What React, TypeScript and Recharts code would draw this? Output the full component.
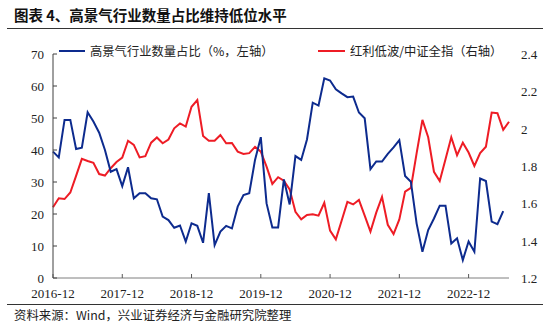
import { LineChart, Line, XAxis, YAxis } from 'recharts';

// 高景气行业数量占比 (%), monthly from 2016-12
const highShare = [
  39.5, 37.7, 49.4, 49.4, 40.3, 40.7, 51.8, 48.9, 45.4, 40.0,
  33.2, 34.0, 28.7, 34.6, 24.9, 26.5, 26.5, 24.9, 24.6, 19.2,
  18.1, 15.7, 16.4, 11.4, 17.1, 16.3, 11.0, 26.5, 10.3, 14.5,
  16.3, 15.5, 22.3, 25.9, 26.5, 36.9, 44.0, 23.3, 15.8, 15.8,
  30.8, 23.0, 38.1, 36.9, 43.3, 54.8, 53.9, 62.4, 61.7, 59.0,
  57.7, 56.5, 56.7, 51.7, 49.9, 34.0, 36.4, 36.4, 38.8, 40.8,
  43.1, 31.9, 30.1, 17.0, 8.2, 15.0, 18.6, 22.6, 22.6, 10.8,
  12.4, 5.6, 11.4, 8.2, 31.1, 30.3, 17.6, 16.8, 20.9,
];

// 红利低波/中证全指
const ratio = [
  1.579, 1.627, 1.623, 1.658, 1.747, 1.838, 1.827, 1.817, 1.757, 1.749,
  1.788, 1.821, 1.845, 1.935, 1.913, 1.846, 1.853, 1.925, 1.953, 1.922,
  1.942, 2.002, 2.028, 2.011, 2.117, 2.153, 1.961, 1.935, 1.935, 1.966,
  1.922, 1.923, 1.877, 1.865, 1.869, 1.903, 1.877, 1.797, 1.704, 1.740,
  1.721, 1.675, 1.555, 1.514, 1.538, 1.541, 1.534, 1.603, 1.454, 1.407,
  1.507, 1.608, 1.594, 1.618, 1.534, 1.449, 1.550, 1.635, 1.485, 1.435,
  1.514, 1.663, 1.683, 1.869, 2.047, 1.954, 1.769, 1.719, 1.836, 1.954,
  1.858, 1.925, 1.872, 1.800, 1.869, 1.903, 2.086, 2.083, 1.994, 2.037,
];

const leftTicks = [0, 10, 20, 30, 40, 50, 60, 70];
const rightTicks = [1.2, 1.4, 1.6, 1.8, 2, 2.2, 2.4];

const startYear = 2016;
const startMonth = 12;

const months = ratio.map((_, i) => {
  const m = startMonth - 1 + i;
  const y = startYear + Math.floor(m / 12);
  return `${y}-${String((m % 12) + 1).padStart(2, '0')}`;
});

const chartData = months.map((month, i) => ({
  month,
  high: i < highShare.length ? highShare[i] : null,
  ratio: ratio[i],
}));

const BLUE = '#0d2b8e';
const RED = '#ee1c25';
const SERIF = '"Liberation Serif", "Times New Roman", serif';
const CJK = '"Noto Sans CJK SC", sans-serif';

function XTick({ x, y, payload }: any) {
  return (
    <g>
      <line x1={x} y1={y - 4} x2={x} y2={y} stroke="#595959" strokeWidth={1} />
      <text x={x} y={y + 20} textAnchor="middle" fontSize={13} fontFamily={SERIF} fill="#222">
        {payload.value}
      </text>
    </g>
  );
}

function LeftTick({ x, y, payload }: any) {
  return (
    <g>
      <line x1={x} y1={y} x2={x + 4} y2={y} stroke="#404040" strokeWidth={1} />
      <text x={x - 9} y={y + 5} textAnchor="end" fontSize={13} fontFamily={SERIF} fill="#222">
        {payload.value}
      </text>
    </g>
  );
}

function RightTick({ x, y, payload }: any) {
  return (
    <text x={x + 12} y={y + 5} textAnchor="start" fontSize={13} fontFamily={SERIF} fill="#222">
      {payload.value}
    </text>
  );
}

export default function App() {
  return (
    <div style={{ position: 'absolute', left: 0, top: 0, width: 550, height: 326, background: '#fff' }}>
      <div style={{ position: 'absolute', left: 14, top: 4, fontFamily: CJK, fontWeight: 700, fontSize: 14.5, color: '#111', whiteSpace: 'nowrap' }}>
        图表 4、高景气行业数量占比维持低位水平
      </div>
      <div style={{ position: 'absolute', left: 7, top: 28, width: 536, height: 1, background: '#333' }} />

      <LineChart
        width={550}
        height={326}
        data={chartData}
        margin={{ top: 54, right: 6, bottom: 18, left: 13 }}
        style={{ position: 'absolute', left: 0, top: 0 }}
      >
        <XAxis
          dataKey="month"
          interval={11}
          tickSize={0}
          tickMargin={0}
          height={30}
          stroke="#7f7f7f"
          tick={<XTick />}
        />
        <YAxis
          yAxisId="left"
          domain={[0, 70]}
          ticks={leftTicks}
          width={40}
          tickSize={0}
          tickMargin={0}
          stroke="#404040"
          tick={<LeftTick />}
        />
        <YAxis
          yAxisId="right"
          orientation="right"
          domain={[1.2, 2.4]}
          ticks={rightTicks}
          width={35}
          tickSize={0}
          tickMargin={0}
          axisLine={false}
          tick={<RightTick />}
        />
        <Line yAxisId="right" dataKey="ratio" stroke={RED} strokeWidth={2} dot={false} isAnimationActive={false} />
        <Line yAxisId="left" dataKey="high" stroke={BLUE} strokeWidth={2} dot={false} isAnimationActive={false} />
      </LineChart>

      <div style={{ position: 'absolute', left: 59, top: 50, width: 26, height: 2, background: BLUE }} />
      <div style={{ position: 'absolute', left: 90, top: 42, fontFamily: CJK, fontSize: 12.3, color: '#222', whiteSpace: 'nowrap' }}>
        高景气行业数量占比（%，左轴）
      </div>
      <div style={{ position: 'absolute', left: 318, top: 50, width: 27, height: 2, background: RED }} />
      <div style={{ position: 'absolute', left: 350, top: 42, fontFamily: CJK, fontSize: 12.3, color: '#222', whiteSpace: 'nowrap' }}>
        红利低波/中证全指（右轴）
      </div>

      <div style={{ position: 'absolute', left: 7, top: 304, width: 536, height: 1, background: '#333' }} />
      <div style={{ position: 'absolute', left: 14, top: 306, fontFamily: CJK, fontSize: 12.4, color: '#222', whiteSpace: 'nowrap' }}>
        资料来源：Wind，兴业证券经济与金融研究院整理
      </div>
    </div>
  );
}
